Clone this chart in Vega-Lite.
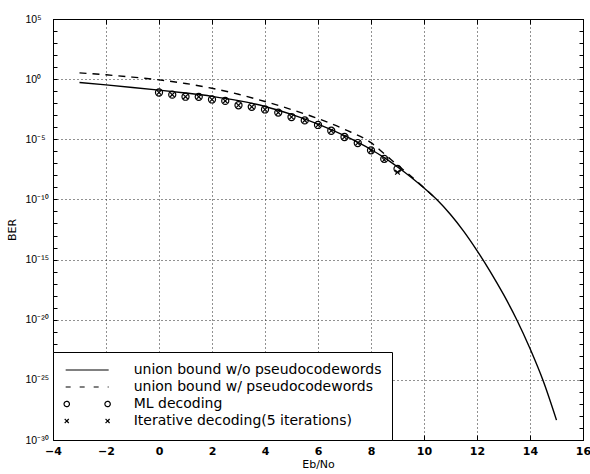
{
  "$schema": "https://vega.github.io/schema/vega-lite/v6.json",
  "width": 530,
  "height": 421,
  "autosize": {"type": "none"},
  "padding": {"left": 53, "top": 19, "right": 7, "bottom": 34},
  "background": "white",
  "config": {
    "view": {"stroke": "black", "strokeWidth": 1},
    "font": "DejaVu Sans",
    "axis": {
      "domainColor": "black", "tickColor": "black", "labelColor": "black", "titleColor": "black",
      "gridColor": "#222", "gridDash": [1, 3], "gridWidth": 1, "tickWidth": 1,
      "titleFontWeight": "normal", "labelOverlap": false, "labelFlush": false
    },
    "legend": {
      "orient": "bottom-left", "offset": 0, "padding": 9.67,
      "strokeColor": "black", "fillColor": "white", "cornerRadius": 0,
      "symbolSize": 1849, "symbolStrokeWidth": 1.2, "symbolStrokeColor": "black", "symbolFillColor": "transparent", "symbolOpacity": 1,
      "symbolOffset": 2, "labelOffset": 24, "labelFontSize": 14, "labelFont": "DejaVu Sans", "labelColor": "black", "labelLimit": 400,
      "clipHeight": 16.67, "rowPadding": 0
    }
  },
  "data": {
    "values": [
      {"s": "union bound w/o pseudocodewords", "x": -3, "y": 0.525},
      {"s": "union bound w/o pseudocodewords", "x": -2, "y": 0.331},
      {"s": "union bound w/o pseudocodewords", "x": -1, "y": 0.204},
      {"s": "union bound w/o pseudocodewords", "x": 0, "y": 0.123},
      {"s": "union bound w/o pseudocodewords", "x": 1, "y": 0.0708},
      {"s": "union bound w/o pseudocodewords", "x": 2, "y": 0.0372},
      {"s": "union bound w/o pseudocodewords", "x": 3, "y": 0.0162},
      {"s": "union bound w/o pseudocodewords", "x": 4, "y": 0.00537},
      {"s": "union bound w/o pseudocodewords", "x": 5, "y": 0.00117},
      {"s": "union bound w/o pseudocodewords", "x": 6, "y": 1.82e-4},
      {"s": "union bound w/o pseudocodewords", "x": 7, "y": 2.0e-5},
      {"s": "union bound w/o pseudocodewords", "x": 8, "y": 1.41e-6},
      {"s": "union bound w/o pseudocodewords", "x": 8.5, "y": 2.95e-7},
      {"s": "union bound w/o pseudocodewords", "x": 9, "y": 5.01e-8},
      {"s": "union bound w/o pseudocodewords", "x": 9.5, "y": 7.41e-9},
      {"s": "union bound w/o pseudocodewords", "x": 10, "y": 8.91e-10},
      {"s": "union bound w/o pseudocodewords", "x": 10.5, "y": 8.91e-11},
      {"s": "union bound w/o pseudocodewords", "x": 11, "y": 5.62e-12},
      {"s": "union bound w/o pseudocodewords", "x": 11.5, "y": 2.24e-13},
      {"s": "union bound w/o pseudocodewords", "x": 12, "y": 5.62e-15},
      {"s": "union bound w/o pseudocodewords", "x": 12.5, "y": 1e-16},
      {"s": "union bound w/o pseudocodewords", "x": 13, "y": 1.26e-18},
      {"s": "union bound w/o pseudocodewords", "x": 13.5, "y": 1e-20},
      {"s": "union bound w/o pseudocodewords", "x": 14, "y": 3.98e-23},
      {"s": "union bound w/o pseudocodewords", "x": 14.5, "y": 7.94e-26},
      {"s": "union bound w/o pseudocodewords", "x": 15, "y": 4.47e-29},
      {"s": "union bound w/ pseudocodewords", "x": -3, "y": 3.31},
      {"s": "union bound w/ pseudocodewords", "x": -2, "y": 2.29},
      {"s": "union bound w/ pseudocodewords", "x": -1, "y": 1.48},
      {"s": "union bound w/ pseudocodewords", "x": 0, "y": 0.871},
      {"s": "union bound w/ pseudocodewords", "x": 1, "y": 0.437},
      {"s": "union bound w/ pseudocodewords", "x": 2, "y": 0.174},
      {"s": "union bound w/ pseudocodewords", "x": 3, "y": 0.055},
      {"s": "union bound w/ pseudocodewords", "x": 4, "y": 0.0138},
      {"s": "union bound w/ pseudocodewords", "x": 5, "y": 0.00295},
      {"s": "union bound w/ pseudocodewords", "x": 6, "y": 5.25e-4},
      {"s": "union bound w/ pseudocodewords", "x": 7, "y": 6.61e-5},
      {"s": "union bound w/ pseudocodewords", "x": 8, "y": 5.25e-6},
      {"s": "union bound w/ pseudocodewords", "x": 8.5, "y": 6.31e-7},
      {"s": "union bound w/ pseudocodewords", "x": 9, "y": 7.08e-8},
      {"s": "union bound w/ pseudocodewords", "x": 9.5, "y": 8.91e-9},
      {"s": "union bound w/ pseudocodewords", "x": 10, "y": 9.55e-10},
      {"s": "union bound w/ pseudocodewords", "x": 10.5, "y": 8.91e-11},
      {"s": "ML decoding", "x": 0, "y": 0.0776},
      {"s": "ML decoding", "x": 0.5, "y": 0.0513},
      {"s": "ML decoding", "x": 1, "y": 0.0347},
      {"s": "ML decoding", "x": 1.5, "y": 0.0339},
      {"s": "ML decoding", "x": 2, "y": 0.0204},
      {"s": "ML decoding", "x": 2.5, "y": 0.0155},
      {"s": "ML decoding", "x": 3, "y": 0.00676},
      {"s": "ML decoding", "x": 3.5, "y": 0.00501},
      {"s": "ML decoding", "x": 4, "y": 0.00302},
      {"s": "ML decoding", "x": 4.5, "y": 0.00166},
      {"s": "ML decoding", "x": 5, "y": 7.08e-4},
      {"s": "ML decoding", "x": 5.5, "y": 3.72e-4},
      {"s": "ML decoding", "x": 6, "y": 1.55e-4},
      {"s": "ML decoding", "x": 6.5, "y": 5.13e-5},
      {"s": "ML decoding", "x": 7, "y": 1.55e-5},
      {"s": "ML decoding", "x": 7.5, "y": 4.9e-6},
      {"s": "ML decoding", "x": 8, "y": 1.2e-6},
      {"s": "ML decoding", "x": 8.5, "y": 2.34e-7},
      {"s": "ML decoding", "x": 9, "y": 3.47e-8},
      {"s": "Iterative decoding(5 iterations)", "x": 0, "y": 0.0776},
      {"s": "Iterative decoding(5 iterations)", "x": 0.5, "y": 0.0513},
      {"s": "Iterative decoding(5 iterations)", "x": 1, "y": 0.0347},
      {"s": "Iterative decoding(5 iterations)", "x": 1.5, "y": 0.0339},
      {"s": "Iterative decoding(5 iterations)", "x": 2, "y": 0.0204},
      {"s": "Iterative decoding(5 iterations)", "x": 2.5, "y": 0.0155},
      {"s": "Iterative decoding(5 iterations)", "x": 3, "y": 0.00676},
      {"s": "Iterative decoding(5 iterations)", "x": 3.5, "y": 0.00501},
      {"s": "Iterative decoding(5 iterations)", "x": 4, "y": 0.00302},
      {"s": "Iterative decoding(5 iterations)", "x": 4.5, "y": 0.00166},
      {"s": "Iterative decoding(5 iterations)", "x": 5, "y": 7.08e-4},
      {"s": "Iterative decoding(5 iterations)", "x": 5.5, "y": 3.72e-4},
      {"s": "Iterative decoding(5 iterations)", "x": 6, "y": 1.55e-4},
      {"s": "Iterative decoding(5 iterations)", "x": 6.5, "y": 5.13e-5},
      {"s": "Iterative decoding(5 iterations)", "x": 7, "y": 1.55e-5},
      {"s": "Iterative decoding(5 iterations)", "x": 7.5, "y": 4.9e-6},
      {"s": "Iterative decoding(5 iterations)", "x": 8, "y": 1.2e-6},
      {"s": "Iterative decoding(5 iterations)", "x": 8.5, "y": 2.0e-7},
      {"s": "Iterative decoding(5 iterations)", "x": 9, "y": 1.8e-8}
    ]
  },
  "layer": [
    {
      "transform": [{"filter": {"field": "s", "equal": "union bound w/o pseudocodewords"}}],
      "mark": {"type": "line", "interpolate": "monotone", "strokeWidth": 1.4, "color": "black"},
      "encoding": {
        "x": {
          "field": "x", "type": "quantitative",
          "scale": {"domain": [-4, 16], "nice": false, "zero": false},
          "axis": {
            "orient": "bottom", "values": [-4, -2, 0, 2, 4, 6, 8, 10, 12, 14, 16], "format": "d",
            "grid": true, "tickSize": -5, "labelPadding": 10, "labelFontSize": 11, "labelFontWeight": "bold",
            "title": "Eb/No", "titleFontSize": 11, "titlePadding": 2
          }
        },
        "y": {
          "field": "y", "type": "quantitative",
          "scale": {"type": "log", "domain": [1e-30, 1e5], "nice": false},
          "axis": {
            "orient": "left",
            "values": [1e5, 1e4, 1e3, 100, 10, 1, 0.1, 0.01, 1e-3, 1e-4, 1e-5, 1e-6, 1e-7, 1e-8, 1e-9, 1e-10, 1e-11, 1e-12, 1e-13, 1e-14, 1e-15, 1e-16, 1e-17, 1e-18, 1e-19, 1e-20, 1e-21, 1e-22, 1e-23, 1e-24, 1e-25, 1e-26, 1e-27, 1e-28, 1e-29, 1e-30],
            "grid": true,
            "gridOpacity": {"condition": {"test": "round(log(datum.value)/LN10) % 5 == 0", "value": 1}, "value": 0},
            "tickSize": -4, "labelPadding": 32, "labelAlign": "left", "labelBaseline": "middle",
            "labelFont": "Liberation Sans", "labelFontSize": 10.5,
            "labelExpr": "round(log(datum.value)/LN10) == 5 ? '10⁵' : round(log(datum.value)/LN10) == 0 ? '10⁰' : round(log(datum.value)/LN10) == -5 ? '10⁻⁵' : round(log(datum.value)/LN10) == -10 ? '10⁻¹⁰' : round(log(datum.value)/LN10) == -15 ? '10⁻¹⁵' : round(log(datum.value)/LN10) == -20 ? '10⁻²⁰' : round(log(datum.value)/LN10) == -25 ? '10⁻²⁵' : round(log(datum.value)/LN10) == -30 ? '10⁻³⁰' : ''",
            "title": "BER", "titleFontSize": 11, "titlePadding": 8
          }
        }
      }
    },
    {
      "transform": [{"filter": {"field": "s", "equal": "union bound w/ pseudocodewords"}}],
      "mark": {"type": "line", "interpolate": "monotone", "strokeWidth": 1.4, "color": "black", "strokeDash": [7, 6]},
      "encoding": {
        "x": {"field": "x", "type": "quantitative", "axis": null},
        "y": {"field": "y", "type": "quantitative", "axis": null}
      }
    },
    {
      "transform": [{"filter": {"field": "s", "equal": "ML decoding"}}],
      "mark": {"type": "point", "shape": "circle", "filled": false, "strokeWidth": 1.2, "color": "black", "opacity": 1, "size": 50},
      "encoding": {
        "x": {
          "field": "x", "type": "quantitative",
          "axis": {"orient": "top", "values": [-4, -2, 0, 2, 4, 6, 8, 10, 12, 14, 16], "grid": false, "labels": false, "tickSize": -5, "title": null}
        },
        "y": {
          "field": "y", "type": "quantitative",
          "axis": {
            "orient": "right", "grid": false, "labels": false, "tickSize": -4, "title": null,
            "values": [1e5, 1e4, 1e3, 100, 10, 1, 0.1, 0.01, 1e-3, 1e-4, 1e-5, 1e-6, 1e-7, 1e-8, 1e-9, 1e-10, 1e-11, 1e-12, 1e-13, 1e-14, 1e-15, 1e-16, 1e-17, 1e-18, 1e-19, 1e-20, 1e-21, 1e-22, 1e-23, 1e-24, 1e-25, 1e-26, 1e-27, 1e-28, 1e-29, 1e-30]
          }
        }
      }
    },
    {
      "transform": [{"filter": {"field": "s", "equal": "Iterative decoding(5 iterations)"}}],
      "mark": {"type": "point", "shape": "M-1,-1L1,1M-1,1L1,-1", "filled": false, "strokeWidth": 1.2, "color": "black", "opacity": 1, "size": 22},
      "encoding": {
        "x": {"field": "x", "type": "quantitative", "axis": null},
        "y": {"field": "y", "type": "quantitative", "axis": null}
      }
    },
    {
      "mark": {"type": "point", "filled": false, "color": "black", "opacity": 0},
      "encoding": {
        "x": {"field": "x", "type": "quantitative", "axis": null},
        "y": {"field": "y", "type": "quantitative", "axis": null},
        "shape": {
          "field": "s", "type": "nominal",
          "scale": {
            "domain": ["union bound w/o pseudocodewords", "union bound w/ pseudocodewords", "ML decoding", "Iterative decoding(5 iterations)"],
            "range": [
              "M-1,0L1,0",
              "M-1,0L1,0",
              "M-0.825,0A0.125,0.125,0,1,1,-1.075,0A0.125,0.125,0,1,1,-0.825,0ZM1.075,0A0.125,0.125,0,1,1,0.825,0A0.125,0.125,0,1,1,1.075,0Z",
              "M-1.045,-0.095L-0.855,0.095M-1.045,0.095L-0.855,-0.095M0.855,-0.095L1.045,0.095M0.855,0.095L1.045,-0.095"
            ]
          },
          "legend": {"title": null}
        },
        "strokeDash": {
          "field": "s", "type": "nominal",
          "scale": {
            "domain": ["union bound w/o pseudocodewords", "union bound w/ pseudocodewords", "ML decoding", "Iterative decoding(5 iterations)"],
            "range": [[1, 0], [5, 9], [1, 0], [1, 0]]
          },
          "legend": {"title": null}
        }
      }
    }
  ]
}
